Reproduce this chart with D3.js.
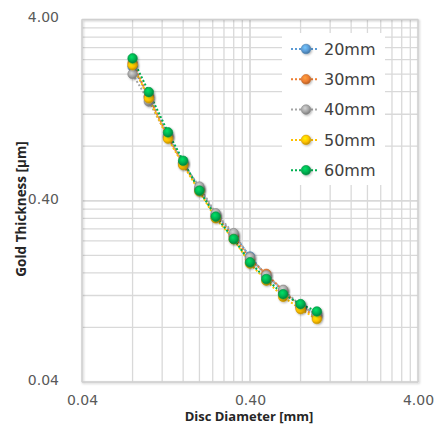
<!DOCTYPE html>
<html><head><meta charset="utf-8">
<script src="https://cdn.jsdelivr.net/npm/d3@7"></script>
<style>html,body{margin:0;padding:0;background:#fff;}svg{display:block;}</style>
</head><body>
<svg id="chart" width="438" height="425"></svg>
<script>
const diameters = [0.08, 0.10, 0.13, 0.16, 0.20, 0.25, 0.32, 0.40, 0.50, 0.63, 0.80, 1.00];
const seriesNames = ["20mm", "30mm", "40mm", "50mm", "60mm"];
const thick20 = [2.20, 1.50, 0.92, 0.65, 0.470, 0.335, 0.260, 0.197, 0.155, 0.127, 0.105, 0.095];
const thick30 = [2.30, 1.50, 0.90, 0.64, 0.460, 0.330, 0.255, 0.190, 0.158, 0.128, 0.103, 0.092];
const thick40 = [2.00, 1.41, 0.90, 0.64, 0.479, 0.341, 0.265, 0.195, 0.155, 0.129, 0.106, 0.094];
const thick50 = [2.24, 1.47, 0.88, 0.63, 0.450, 0.320, 0.245, 0.180, 0.145, 0.118, 0.101, 0.089];
const thick60 = [2.44, 1.59, 0.954, 0.665, 0.455, 0.327, 0.246, 0.183, 0.148, 0.122, 0.1076, 0.098];
const tickValues = [0.04, 0.4, 4];
const tickLabels = ["0.04", "0.40", "4.00"];
const colors = ["#5b9bd5", "#ed7d31", "#a5a5a5", "#ffc000", "#00b050"];

const allSeries = [thick20, thick30, thick40, thick50, thick60].map((vals, i) => ({
  name: seriesNames[i], color: colors[i],
  points: vals.map((v, j) => ({x: diameters[j], y: v}))
}));

const svg = d3.select("#chart");
const x = d3.scaleLog().domain([0.04, 4]).range([82, 418]);
const y = d3.scaleLog().domain([0.04, 4]).range([382, 19.5]);

const defs = svg.append("defs");
allSeries.forEach((s, i) => {
  const g = defs.append("radialGradient").attr("id", "grad" + i)
    .attr("cx", "40%").attr("cy", "35%").attr("r", "65%");
  g.append("stop").attr("offset", "0%").attr("stop-color", d3.color(s.color).brighter(0.7));
  g.append("stop").attr("offset", "60%").attr("stop-color", s.color);
  g.append("stop").attr("offset", "100%").attr("stop-color", d3.color(s.color).darker(0.8));
});
const f = defs.append("filter").attr("id", "shadow").attr("x", "-20%").attr("y", "-20%").attr("width", "150%").attr("height", "150%");
f.append("feDropShadow").attr("dx", 1).attr("dy", 1).attr("stdDeviation", 1).attr("flood-color", "#000").attr("flood-opacity", 0.3);

// grid
const gridVals = d3.range(1, 11).flatMap(k => [0.04 * k, 0.4 * k]);
const grid = svg.append("g");
grid.selectAll(".vg").data(gridVals).join("line")
  .attr("x1", d => x(d)).attr("x2", d => x(d))
  .attr("y1", y(4)).attr("y2", y(0.04))
  .attr("stroke", "#d9d9d9").attr("stroke-width", 1.3);
grid.selectAll(".hg").data(gridVals).join("line")
  .attr("y1", d => y(d)).attr("y2", d => y(d))
  .attr("x1", x(0.04)).attr("x2", x(4))
  .attr("stroke", "#d9d9d9").attr("stroke-width", 1.3);

// frame with shadow
svg.append("rect").attr("x", x(0.04)).attr("y", y(4))
  .attr("width", x(4) - x(0.04)).attr("height", y(0.04) - y(4))
  .attr("fill", "none").attr("stroke", "#d0d0d0").attr("stroke-width", 1)
  .attr("filter", "url(#shadow)");
svg.append("line").attr("x1", x(0.04)).attr("x2", x(0.04)).attr("y1", y(4)).attr("y2", y(0.04))
  .attr("stroke", "#9a9a9a").attr("stroke-width", 1.5).attr("filter", "url(#shadow)");
svg.append("line").attr("x1", x(0.04)).attr("x2", x(4)).attr("y1", y(0.04)).attr("y2", y(0.04))
  .attr("stroke", "#9a9a9a").attr("stroke-width", 1.5).attr("filter", "url(#shadow)");

// axes labels
const xAxis = d3.axisBottom(x).tickValues(tickValues).tickSize(0)
  .tickFormat((d, i) => tickLabels[i]);
const gx = svg.append("g").attr("transform", `translate(0,${y(0.04) + 10.5})`).call(xAxis);
gx.select(".domain").remove();
gx.selectAll("text").attr("font-family", "DejaVu Sans").attr("font-size", 14).attr("fill", "#595959");

const yAxis = d3.axisLeft(y).tickValues(tickValues).tickSize(0)
  .tickFormat((d, i) => tickLabels[i]);
const gy = svg.append("g").attr("transform", `translate(${x(0.04) - 20},-2)`).call(yAxis);
gy.select(".domain").remove();
gy.selectAll("text").attr("font-family", "DejaVu Sans").attr("font-size", 14).attr("fill", "#595959");

svg.append("text").attr("x", 249).attr("y", 421).attr("text-anchor", "middle")
  .attr("font-family", "Open Sans").attr("font-weight", "bold").attr("font-size", 13)
  .attr("fill", "#262626").text("Disc Diameter [mm]");
svg.append("text").attr("transform", "translate(26,209) rotate(-90)").attr("text-anchor", "middle")
  .attr("font-family", "Open Sans").attr("font-weight", "bold").attr("font-size", 13.5)
  .attr("fill", "#262626").text("Gold Thickness [µm]");

// lines and markers
const line = d3.line().x(d => x(d.x)).y(d => y(d.y));
allSeries.forEach((s, i) => {
  svg.append("path").datum(s.points).attr("d", line)
    .attr("fill", "none").attr("stroke", s.color).attr("stroke-width", 2)
    .attr("stroke-dasharray", "2,2");
});
allSeries.forEach((s, i) => {
  svg.append("g").selectAll("circle").data(s.points).join("circle")
    .attr("cx", d => x(d.x)).attr("cy", d => y(d.y)).attr("r", 4.8)
    .attr("fill", `url(#grad${i})`).attr("stroke", d3.color(s.color).darker(0.5)).attr("stroke-width", 0.6)
    .attr("filter", "url(#shadow)");
});

// legend
const lg = svg.append("g");
lg.append("rect").attr("x", 282).attr("y", 33).attr("width", 103).attr("height", 152).attr("fill", "#fff");
allSeries.forEach((s, i) => {
  const cy = 49 + i * 30.3;
  lg.append("line").attr("x1", 291).attr("x2", 319).attr("y1", cy).attr("y2", cy)
    .attr("stroke", s.color).attr("stroke-width", 2).attr("stroke-dasharray", "2,2");
  lg.append("circle").attr("cx", 306).attr("cy", cy).attr("r", 4.8)
    .attr("fill", `url(#grad${i})`).attr("stroke", d3.color(s.color).darker(0.5)).attr("stroke-width", 0.6)
    .attr("filter", "url(#shadow)");
  lg.append("text").attr("x", 324).attr("y", cy).attr("dy", "0.36em")
    .attr("font-family", "DejaVu Sans").attr("font-size", 16).attr("fill", "#404040").text(s.name);
});
</script>
</body></html>
